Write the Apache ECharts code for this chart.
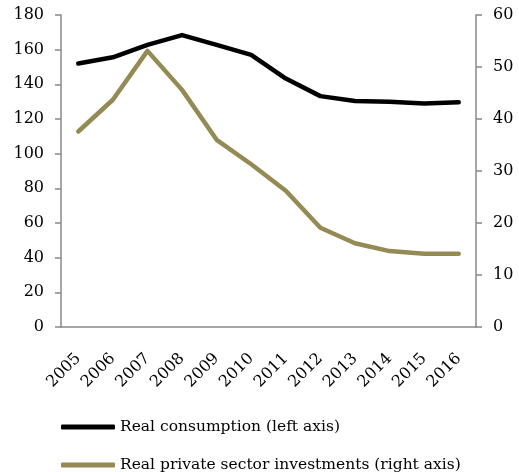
<!DOCTYPE html>
<html>
<head>
<meta charset="utf-8">
<script src="https://cdn.jsdelivr.net/npm/echarts@6/dist/echarts.min.js"></script>
<style>
  html, body { margin: 0; padding: 0; background: #fff; }
  #chart { width: 519px; height: 472px; }
</style>
</head>
<body>
<div id="chart"></div>
<script>
const years = ['2005', '2006', '2007', '2008', '2009', '2010', '2011', '2012', '2013', '2014', '2015', '2016'];
const consumption = [152, 155.6, 162.8, 168.4, 162.8, 157, 143.3, 133.2, 130.4, 130, 129, 129.6];
const investments = [37.6, 43.7, 53.1, 45.6, 36, 31.3, 26.2, 19.1, 16.1, 14.6, 14.1, 14.1];
const seriesNames = ['Real consumption (left axis)', 'Real private sector investments (right axis)'];

const font = 'DejaVu Serif';
const axisColor = '#888888';
const chart = echarts.init(document.getElementById('chart'));

const valueAxis = (max, interval, position, margin) => ({
  type: 'value',
  position: position,
  min: 0,
  max: max,
  interval: interval,
  splitLine: { show: false },
  axisLine: { show: true, lineStyle: { color: axisColor, width: 1.5 } },
  axisTick: { show: true, length: 6, lineStyle: { color: axisColor, width: 1.5 } },
  axisLabel: { color: '#000', fontFamily: font, fontSize: 16, margin: margin },
});

const legendBox = (name, top) => ({
  left: 56,
  top: top,
  itemWidth: 54,
  itemHeight: 5,
  icon: 'roundRect',
  textStyle: { color: '#000', fontFamily: font, fontSize: 15.5 },
  data: [name],
});

chart.setOption({
  animation: false,
  grid: { left: 61, right: 43, top: 15, bottom: 145 },
  xAxis: {
    type: 'category',
    data: years,
    boundaryGap: true,
    axisLine: { lineStyle: { color: axisColor, width: 1.5 } },
    axisTick: { length: 6, lineStyle: { color: axisColor, width: 1.5 } },
    axisLabel: { color: '#000', fontFamily: font, fontSize: 16, rotate: 45, margin: 29, interval: 0 },
  },
  yAxis: [valueAxis(180, 20, 'left', 17), valueAxis(60, 10, 'right', 17)],
  legend: [legendBox(seriesNames[0], 414), legendBox(seriesNames[1], 452)],
  series: [
    {
      name: seriesNames[0],
      type: 'line',
      yAxisIndex: 0,
      data: consumption,
      showSymbol: false,
      color: '#000000',
      lineStyle: { width: 4.5, join: 'round', cap: 'round' },
    },
    {
      name: seriesNames[1],
      type: 'line',
      yAxisIndex: 1,
      data: investments,
      showSymbol: false,
      color: '#948A54',
      lineStyle: { width: 4.5, join: 'round', cap: 'round' },
    },
  ],
});
</script>
</body>
</html>
